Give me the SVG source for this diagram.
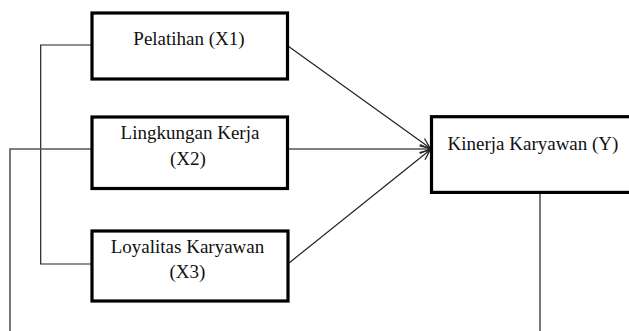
<svg xmlns="http://www.w3.org/2000/svg" width="629" height="331" viewBox="0 0 629 331">
<style>
.box{fill:#fff;stroke:#000;stroke-width:3.2}
.lbl{font-family:"Liberation Serif","Times New Roman",serif;font-size:19px;fill:#111}
.c{text-anchor:middle}
.ln{fill:none;stroke:#222;stroke-width:1.2}
.gl{fill:none;stroke:#555;stroke-width:1.6}
</style>
<defs>
<marker id="arr" viewBox="0 0 12 12" refX="11" refY="6" markerWidth="12" markerHeight="12" markerUnits="userSpaceOnUse" orient="auto">
<path d="M1,1.5 L11,6 L1,10.5" fill="none" stroke="#222" stroke-width="1.3"/>
</marker>
</defs>
<g id="connectors">
<polyline class="ln" points="92,45 40.7,45 40.7,264 92,264"/>
<polyline class="gl" points="10,331 10,149 92,149"/>
<line class="gl" x1="288" y1="149" x2="430" y2="149" marker-end="url(#arr)"/>
<line class="ln" x1="288" y1="46" x2="430" y2="148" marker-end="url(#arr)"/>
<line class="ln" x1="289" y1="263" x2="430" y2="150" marker-end="url(#arr)"/>
<line class="gl" x1="540" y1="193" x2="540" y2="331"/>
</g>
<g id="x1">
<rect class="box" x="92" y="13" width="195.5" height="66"/>
<text class="lbl c" x="189" y="45">Pelatihan (X1)</text>
</g>
<g id="x2">
<rect class="box" x="92" y="117" width="195.5" height="71.5"/>
<text class="lbl c" x="190" y="139">Lingkungan Kerja</text>
<text class="lbl c" x="188" y="165">(X2)</text>
</g>
<g id="x3">
<rect class="box" x="92" y="231" width="196" height="70"/>
<text class="lbl c" x="187.5" y="253">Loyalitas Karyawan</text>
<text class="lbl c" x="187.5" y="278">(X3)</text>
</g>
<g id="y">
<rect class="box" x="431.5" y="116.7" width="205" height="75.7"/>
<text class="lbl" x="447.5" y="150">Kinerja Karyawan (Y)</text>
</g>
</svg>
